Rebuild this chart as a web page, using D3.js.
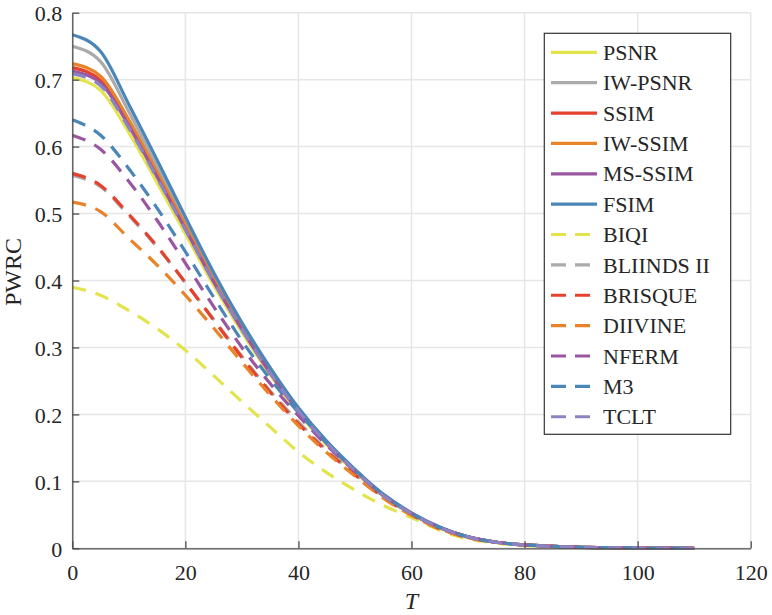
<!DOCTYPE html>
<html>
<head>
<meta charset="utf-8">
<title>PWRC</title>
<script src="https://d3js.org/d3.v7.min.js"></script>
<style>
  body { margin: 0; background: #fff; }
  svg { display: block; }
</style>
</head>
<body>
<div id="chart"></div>
<script>
// threshold values along the x axis
var T = [0,5,10,15,20,25,30,35,40,45,50,55,60,65,70,75,80,85,90,95,100,105,110];

// full-reference metrics (solid)
var psnr   = [0.703,0.684,0.621,0.546,0.470,0.393,0.323,0.259,0.202,0.155,0.114,0.078,0.051,0.030,0.016,0.009,0.005,0.003,0.0015,0.0008,0.0004,0.0002,0.0001];
var iwpsnr = [0.750,0.727,0.652,0.570,0.488,0.405,0.332,0.265,0.207,0.158,0.117,0.080,0.052,0.031,0.017,0.009,0.005,0.003,0.0015,0.0008,0.0004,0.0002,0.0001];
var ssim   = [0.718,0.699,0.634,0.557,0.479,0.399,0.328,0.262,0.205,0.157,0.116,0.079,0.052,0.031,0.017,0.009,0.005,0.003,0.0015,0.0008,0.0004,0.0002,0.0001];
var iwssim = [0.724,0.705,0.640,0.562,0.483,0.402,0.330,0.264,0.206,0.157,0.116,0.080,0.052,0.031,0.017,0.009,0.005,0.003,0.0015,0.0008,0.0004,0.0002,0.0001];
var msssim = [0.713,0.695,0.631,0.555,0.477,0.398,0.327,0.262,0.205,0.157,0.116,0.079,0.052,0.031,0.017,0.009,0.005,0.003,0.0015,0.0008,0.0004,0.0002,0.0001];
var fsim   = [0.767,0.742,0.663,0.580,0.495,0.412,0.337,0.270,0.210,0.160,0.118,0.081,0.053,0.032,0.017,0.009,0.005,0.003,0.0015,0.0008,0.0004,0.0002,0.0001];

// no-reference metrics (dashed)
var biqi    = [0.390,0.378,0.355,0.328,0.296,0.258,0.219,0.181,0.144,0.113,0.087,0.064,0.046,0.027,0.014,0.008,0.004,0.002,0.001,0.0005,0.0002,0.0001,0.0];
var bliinds = [0.557,0.540,0.497,0.450,0.397,0.342,0.287,0.235,0.189,0.147,0.111,0.077,0.051,0.030,0.016,0.009,0.005,0.003,0.0015,0.0008,0.0004,0.0002,0.0001];
var brisque = [0.560,0.542,0.499,0.451,0.397,0.341,0.285,0.233,0.186,0.145,0.110,0.076,0.050,0.029,0.016,0.009,0.005,0.003,0.0015,0.0008,0.0004,0.0002,0.0001];
var diivine = [0.517,0.503,0.463,0.423,0.378,0.329,0.278,0.229,0.183,0.143,0.108,0.075,0.049,0.029,0.016,0.009,0.005,0.003,0.0015,0.0008,0.0004,0.0002,0.0001];
var nferm   = [0.617,0.596,0.548,0.490,0.426,0.361,0.300,0.246,0.198,0.154,0.115,0.079,0.052,0.031,0.017,0.009,0.005,0.003,0.0015,0.0008,0.0004,0.0002,0.0001];
var m3      = [0.640,0.617,0.567,0.508,0.443,0.375,0.310,0.253,0.203,0.157,0.117,0.080,0.052,0.031,0.017,0.009,0.005,0.003,0.0015,0.0008,0.0004,0.0002,0.0001];
var tclt    = [0.709,0.691,0.628,0.553,0.476,0.398,0.327,0.262,0.205,0.157,0.116,0.079,0.052,0.031,0.017,0.009,0.005,0.003,0.0015,0.0008,0.0004,0.0002,0.0001];

var names = ["PSNR","IW-PSNR","SSIM","IW-SSIM","MS-SSIM","FSIM","BIQI","BLIINDS II","BRISQUE","DIIVINE","NFERM","M3","TCLT"];
var values = [psnr, iwpsnr, ssim, iwssim, msssim, fsim, biqi, bliinds, brisque, diivine, nferm, m3, tclt];
var colors = ["#e3e34d","#aaaaaa","#e5412d","#e8832a","#9a56a0","#4a86b8",
              "#e3e34d","#aaaaaa","#e5412d","#e8832a","#9a56a0","#4a86b8","#8d82c2"];
var dashed = [false,false,false,false,false,false,true,true,true,true,true,true,true];

var xTicks = [0,20,40,60,80,100,120];
var yTicks = [0,0.1,0.2,0.3,0.4,0.5,0.6,0.7,0.8];

var W = 772, H = 615;
var plotL = 72.3, plotR = 750.7, plotT = 12.7, plotB = 548.3;
var serif = "Liberation Serif, DejaVu Serif, serif";

var svg = d3.select("#chart").append("svg")
  .attr("width", W)
  .attr("height", H);

var x = d3.scaleLinear().domain([0,120]).range([plotL,plotR]);
var y = d3.scaleLinear().domain([0,0.8]).range([plotB,plotT]);

// grid
svg.append("g").selectAll("line").data(xTicks).enter().append("line")
  .attr("x1", d => x(d)).attr("x2", d => x(d))
  .attr("y1", plotT).attr("y2", plotB)
  .attr("stroke", "#e6e6e6").attr("stroke-width", 1.5);
svg.append("g").selectAll("line").data(yTicks).enter().append("line")
  .attr("y1", d => y(d)).attr("y2", d => y(d))
  .attr("x1", plotL).attr("x2", plotR)
  .attr("stroke", "#e6e6e6").attr("stroke-width", 1.5);

// curves
var line = d3.line()
  .x((d,i) => x(T[i]))
  .y(d => y(d))
  .curve(d3.curveMonotoneX);

svg.append("g").selectAll("path").data(values).enter().append("path")
  .attr("d", d => line(d))
  .attr("fill", "none")
  .attr("stroke", (d,i) => colors[i])
  .attr("stroke-width", 3.2)
  .attr("stroke-dasharray", (d,i) => dashed[i] ? "14,10" : null);

// axes
var xAxis = d3.axisBottom(x).tickValues(xTicks).tickSizeInner(-7).tickSizeOuter(0).tickPadding(16)
  .tickFormat(d3.format("d"));
var yAxis = d3.axisLeft(y).tickValues(yTicks).tickSizeInner(-7).tickSizeOuter(0).tickPadding(10)
  .tickFormat(d => d === 0 ? "0" : d3.format(".1f")(d));

var gx = svg.append("g").attr("transform", "translate(0," + plotB + ")").call(xAxis);
var gy = svg.append("g").attr("transform", "translate(" + plotL + ",0)").call(yAxis);
[gx, gy].forEach(function(g){
  g.attr("font-family", null).attr("font-size", null);
  g.select(".domain").attr("stroke", "#4d4d4d").attr("stroke-width", 1.3);
  g.selectAll(".tick line").attr("stroke", "#4d4d4d").attr("stroke-width", 1.3);
  g.selectAll(".tick text").attr("fill", "#262626")
    .style("font-family", serif).style("font-size", "22px");
});
gy.selectAll(".tick text").attr("dy", "0.35em");

// axis labels
svg.append("text")
  .attr("x", (plotL+plotR)/2).attr("y", 609)
  .attr("text-anchor", "middle")
  .style("font-family", serif).style("font-size", "24px").style("font-style", "italic")
  .attr("fill", "#262626")
  .text("T");
svg.append("text")
  .attr("transform", "translate(21,272) rotate(-90)")
  .attr("text-anchor", "middle")
  .style("font-family", serif).style("font-size", "24px")
  .attr("fill", "#262626")
  .text("PWRC");

// legend
var lg = svg.append("g");
lg.append("rect")
  .attr("x", 544.3).attr("y", 33.3)
  .attr("width", 730.7-544.3).attr("height", 434.3-33.3)
  .attr("fill", "#fff").attr("stroke", "#333").attr("stroke-width", 1.2);
var rows = lg.selectAll("g.row").data(names).enter().append("g")
  .attr("transform", (d,i) => "translate(0," + (52.3 + i*30.37) + ")");
rows.append("line")
  .attr("x1", 551).attr("x2", 597).attr("y1", 0).attr("y2", 0)
  .attr("stroke", (d,i) => colors[i]).attr("stroke-width", 3.2)
  .attr("stroke-dasharray", (d,i) => dashed[i] ? "15,9" : null);
rows.append("text")
  .attr("x", 603).attr("y", 0).attr("dy", "0.35em")
  .style("font-family", serif).style("font-size", "22px")
  .attr("fill", "#262626")
  .text(d => d);
</script>
</body>
</html>
